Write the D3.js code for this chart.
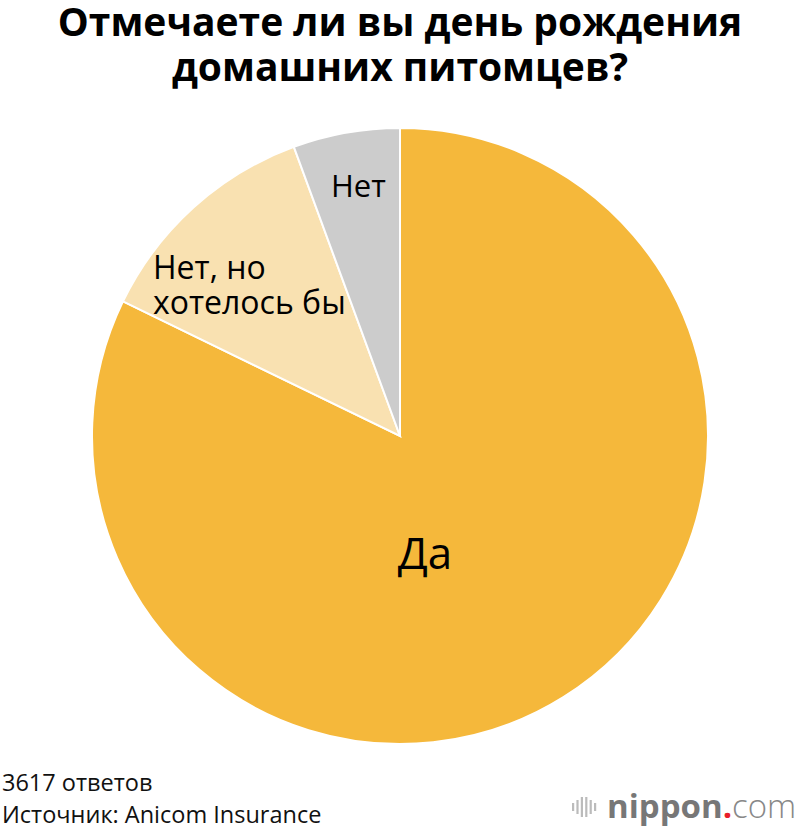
<!DOCTYPE html>
<html>
<head>
  <meta charset="utf-8">
  <script src="https://d3js.org/d3.v7.min.js"></script>
  <style>
    body { margin: 0; background: #fff; }
    svg { display: block; font-family: "Open Sans", "Noto Sans", sans-serif; }
  </style>
</head>
<body>
  <svg id="viz"></svg>
  <script>
    // data
    let categories = ["Да", "Нет, но хотелось бы", "Нет"];
    let values = [82.2, 12.2, 5.6];
    let colors = ["#f5b83b", "#f9e1b1", "#cccccc"];

    let width = 800, height = 832;
    let svg = d3.select("#viz").attr("width", width).attr("height", height);

    // title
    let title = svg.append("text")
      .attr("text-anchor", "middle")
      .attr("font-size", 39)
      .attr("font-weight", 700)
      .attr("fill", "#000");
    title.append("tspan").attr("x", 400).attr("y", 36).text("Отмечаете ли вы день рождения");
    title.append("tspan").attr("x", 400).attr("y", 81).text("домашних питомцев?");

    // pie
    let cx = 400, cy = 436, r = 308;
    let pie = d3.pie().sort(null).value(d => d);
    let arc = d3.arc().innerRadius(0).outerRadius(r);
    let arcs = pie(values);

    let g = svg.append("g").attr("transform", `translate(${cx},${cy})`);
    g.selectAll("path")
      .data(arcs)
      .enter()
      .append("path")
      .attr("d", arc)
      .attr("fill", (d, i) => colors[i])
      .attr("stroke", "#fff")
      .attr("stroke-width", 2);

    // slice labels
    let lab = [
      { lines: ["Да"], size: 44, pos: [25, 133], anchor: "middle" },
      { lines: ["Нет, но", "хотелось бы"], size: 32, pos: [-247, -157], anchor: "start" },
      { lines: ["Нет"], size: 31, pos: [-69, -239], anchor: "start" }
    ];
    lab.forEach((l, i) => {
      let t = g.append("text")
        .attr("text-anchor", l.anchor)
        .attr("font-size", l.size)
        .attr("fill", "#000");
      l.lines.forEach((s, j) => {
        t.append("tspan")
          .attr("x", l.pos[0])
          .attr("y", l.pos[1] + j * 35)
          .text(s);
      });
    });

    // footer
    svg.append("text").attr("x", 2).attr("y", 791)
      .attr("font-size", 23.5).attr("fill", "#111").text("3617 ответов");
    svg.append("text").attr("x", 2).attr("y", 823)
      .attr("font-size", 23.5).attr("fill", "#111").text("Источник: Anicom Insurance");

    // logo
    let logo = svg.append("g").attr("transform", "translate(572,790)");
    let bars = [8, 14, 20, 20, 14, 8];
    bars.forEach((h, i) => {
      logo.append("rect")
        .attr("x", i * 4.4)
        .attr("y", 17 - h / 2)
        .attr("width", 2.2)
        .attr("height", h)
        .attr("fill", "#bbb");
    });
    let lt = logo.append("text").attr("x", 35).attr("y", 28).attr("font-size", 33);
    lt.append("tspan").attr("font-weight", 700).attr("fill", "#777").text("nippon");
    lt.append("tspan").attr("font-weight", 700).attr("fill", "#e8202a").text(".");
    lt.append("tspan").attr("font-weight", 300).attr("fill", "#888").text("com");
  </script>
</body>
</html>
